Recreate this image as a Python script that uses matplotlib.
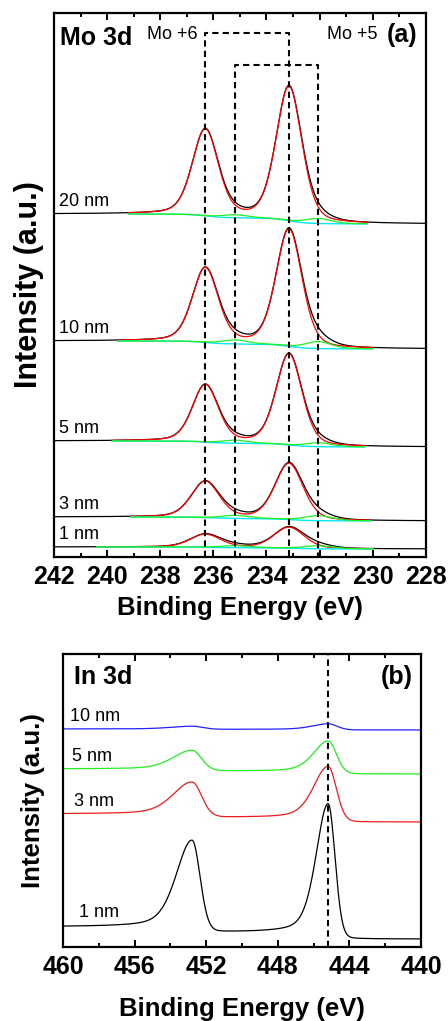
import numpy as np
import matplotlib
matplotlib.use("Agg")
import matplotlib.pyplot as plt

plt.rcParams['font.family'] = ['Liberation Sans', 'DejaVu Sans']

# ---- (a) Mo 3d, подписи толщин и параметры пиков ----
mo_labels = ["20 nm", "10 nm", "5 nm", "3 nm", "1 nm"]
mo6_pos = [236.3, 233.15]      # Mo +6: 3d3/2, 3d5/2
mo5_pos = [235.2, 232.05]      # Mo +5: 3d3/2, 3d5/2
mo_bg_left = [343, 216, 116, 40, 10]
mo_bg_right = [333, 208, 110, 36, 8]
mo6_h = [[86, 134], [74, 117], [57, 91], [36, 56], [13, 21]]
mo5_h = [[3, 5], [4, 7], [3, 4], [3, 5], [2, 3]]
mo_fwhm = [1.15, 1.15, 1.15, 1.25, 1.35]
mo_fit_lo = [239.2, 239.6, 239.8, 239.1, 240.4]
mo_fit_hi = [230.2, 230.0, 230.3, 230.1, 230.0]

# ---- (b) In 3d ----
in_labels = ["10 nm", "5 nm", "3 nm", "1 nm"]
in_colors = ["#2020ff", "#22ee22", "#ee1c1c", "black"]
in_pos = [452.78, 445.18]
in_bg_left = [218, 178, 133, 20]
in_bg_right = [217, 173, 125, 8]
in_h = [[3, 6], [20, 32], [34, 54], [90, 133]]
in_hw_left = [1.05, 0.8]
in_hw_right = [0.52, 0.45]
in_wscale = [1.3, 1.2, 1.2, 1.0]


def gl(x, c, h, fwhm, eta=0.3):
    """Гаусс-Лоренц пик"""
    s = fwhm / 2
    g = np.exp(-np.log(2) * ((x - c) / s) ** 2)
    lo = 1 / (1 + ((x - c) / s) ** 2)
    return h * ((1 - eta) * g + eta * lo)


def agl(x, c, h, hwl, hwr):
    """Асимметричный пик (хвост в сторону больших энергий)"""
    left = x > c
    s = np.where(left, hwl, hwr)
    eta = np.where(left, 0.4, 0.08)
    g = np.exp(-np.log(2) * ((x - c) / s) ** 2)
    lo = 1 / (1 + ((x - c) / s) ** 2)
    return h * ((1 - eta) * g + eta * lo)


def shirley(sig, left, right):
    frac = np.cumsum(sig[::-1])[::-1] / sig.sum()
    return right + (left - right) * frac


fig = plt.figure(figsize=(4.48, 10.21), dpi=100)
ax1 = fig.add_axes([0.1205, 0.4545, 0.830, 0.5328])
ax2 = fig.add_axes([0.1406, 0.0725, 0.799, 0.287])

x = np.linspace(242, 228, 1400)
for i, lab in enumerate(mo_labels):
    p6 = sum(gl(x, c, h, mo_fwhm[i]) for c, h in zip(mo6_pos, mo6_h[i]))
    p5 = sum(gl(x, c, h, mo_fwhm[i]) for c, h in zip(mo5_pos, mo5_h[i]))
    bg = shirley(p6 + p5, mo_bg_left[i], mo_bg_right[i])
    m = (x <= mo_fit_lo[i]) & (x >= mo_fit_hi[i])
    ax1.plot(x, bg + p6 + p5, color="black", lw=0.9)
    ax1.plot(x[m], (bg + p6)[m], color="#ff0000", lw=0.9)
    ax1.plot(x[m], bg[m], color="#00e8f0", lw=1.0)
    ax1.plot(x[m], (bg + p5)[m], color="#22ee22", lw=0.9)
    ax1.text(241.8, mo_bg_left[i] + 4, lab, fontsize=13, va="bottom")

# Пунктирные рамки Mo +6 / Mo +5
dash = (0, (3, 2))
ax1.plot([mo6_pos[0], mo6_pos[0], mo6_pos[1], mo6_pos[1]], [0, 524, 524, 0],
         color="black", lw=1.5, ls=dash)
ax1.plot([mo5_pos[0], mo5_pos[0], mo5_pos[1], mo5_pos[1]], [0, 492, 492, 0],
         color="black", lw=1.5, ls=dash)

ax1.set_xlim(242, 228)
ax1.set_ylim(0, 544)
ax1.set_xticks(np.arange(242, 227, -2))
ax1.set_xticklabels([str(v) for v in range(242, 227, -2)], fontweight="bold")
ax1.set_xticks(np.arange(241, 228, -2), minor=True)
ax1.set_yticks([])
ax1.text(0.016, 0.954, "Mo 3d", transform=ax1.transAxes, fontsize=18,
         fontweight="bold", va="center")
ax1.text(0.25, 0.96, "Mo +6", transform=ax1.transAxes, fontsize=13, va="center")
ax1.text(0.871, 0.96, "Mo +5", transform=ax1.transAxes, fontsize=13, va="center", ha="right")
ax1.text(0.976, 0.96, "(a)", transform=ax1.transAxes, fontsize=18,
         fontweight="bold", va="center", ha="right")

x2 = np.linspace(460, 440, 1400)
for i, lab in enumerate(in_labels):
    k = in_wscale[i]
    p = sum(agl(x2, c, h, a * k, b * k) for c, h, a, b in
            zip(in_pos, in_h[i], in_hw_left, in_hw_right))
    bg = shirley(p, in_bg_left[i], in_bg_right[i])
    ax2.plot(x2, bg + p, color=in_colors[i], lw=0.9)
ax2.text(459.6, 230, "10 nm", fontsize=13, va="center")
ax2.text(459.5, 190, "5 nm", fontsize=13, va="center")
ax2.text(459.4, 145, "3 nm", fontsize=13, va="center")
ax2.text(459.1, 34, "1 nm", fontsize=13, va="center")
ax2.axvline(in_pos[1], color="black", lw=1.5, ls=dash)

ax2.set_xlim(460, 440)
ax2.set_ylim(0, 293)
ax2.set_xticks(np.arange(460, 439, -4))
ax2.set_xticklabels([str(v) for v in range(460, 439, -4)], fontweight="bold")
ax2.set_xticks(np.arange(458, 440, -4), minor=True)
ax2.set_yticks([])
ax2.text(0.03, 0.921, "In 3d", transform=ax2.transAxes, fontsize=18,
         fontweight="bold", va="center")
ax2.text(0.978, 0.921, "(b)", transform=ax2.transAxes, fontsize=18,
         fontweight="bold", va="center", ha="right")

for ax, lp, ysz, ylp in [(ax1, 5, 22, 7), (ax2, 13, 18.5, 13)]:
    for s in ax.spines.values():
        s.set_linewidth(1.6)
    ax.tick_params(axis="x", which="both", direction="in", top=True,
                   labelsize=18, width=1.4, pad=6)
    ax.tick_params(axis="x", which="major", length=5)
    ax.tick_params(axis="x", which="minor", length=3)
    ax.set_xlabel("Binding Energy (eV)", fontsize=18.5, fontweight="bold", labelpad=lp)
    ax.set_ylabel("Intensity (a.u.)", fontsize=ysz, fontweight="bold", labelpad=ylp)

fig.savefig("out.png", dpi=100)
